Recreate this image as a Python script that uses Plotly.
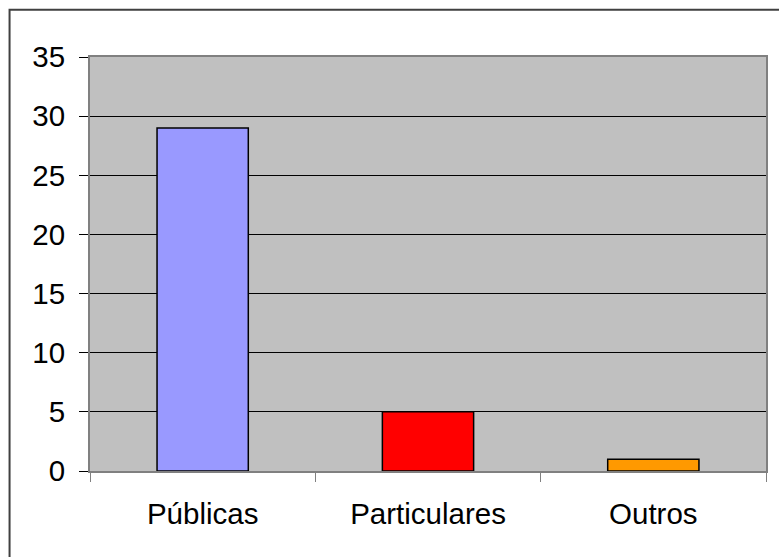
import plotly.graph_objects as go

categories = ["Públicas", "Particulares", "Outros"]
values = [29, 5, 1]
bar_colors = ["#9999FF", "#FF0000", "#FF9900"]
y_ticks = [0, 5, 10, 15, 20, 25, 30, 35]

FONT = "Liberation Sans, Arial, sans-serif"
FS = 29.5

fig = go.Figure(
    go.Bar(
        x=categories,
        y=values,
        marker=dict(color=bar_colors, line=dict(color="black", width=1.5)),
        width=0.405,
    )
)

fig.update_layout(
    width=779,
    height=557,
    margin=dict(l=90, r=11, t=57, b=86),
    paper_bgcolor="white",
    plot_bgcolor="#C0C0C0",
    showlegend=False,
    font=dict(family=FONT, size=FS, color="black"),
    shapes=[
        dict(
            type="rect", xref="paper", yref="paper",
            x0=-0.119, x1=1.05, y0=-0.25, y1=1.114,
            line=dict(color="#404040", width=2), fillcolor="rgba(0,0,0,0)",
            layer="below",
        )
    ],
)

fig.update_xaxes(
    type="category",
    showgrid=False,
    showline=True, linecolor="#808080", linewidth=2, mirror=True,
    ticks="outside", tickson="boundaries", ticklen=9, tickcolor="#808080", tickwidth=1,
    ticklabelstandoff=16,
    tickfont=dict(family=FONT, size=FS, color="black"),
)
fig.update_yaxes(
    range=[0, 35],
    tickvals=y_ticks,
    showgrid=True, gridcolor="black", gridwidth=1,
    zeroline=False,
    showline=True, linecolor="#808080", linewidth=2, mirror=True,
    ticks="outside", ticklen=9, tickcolor="black", tickwidth=1,
    ticklabelstandoff=8,
    tickfont=dict(family=FONT, size=FS, color="black"),
)

fig.write_html("out.html")
